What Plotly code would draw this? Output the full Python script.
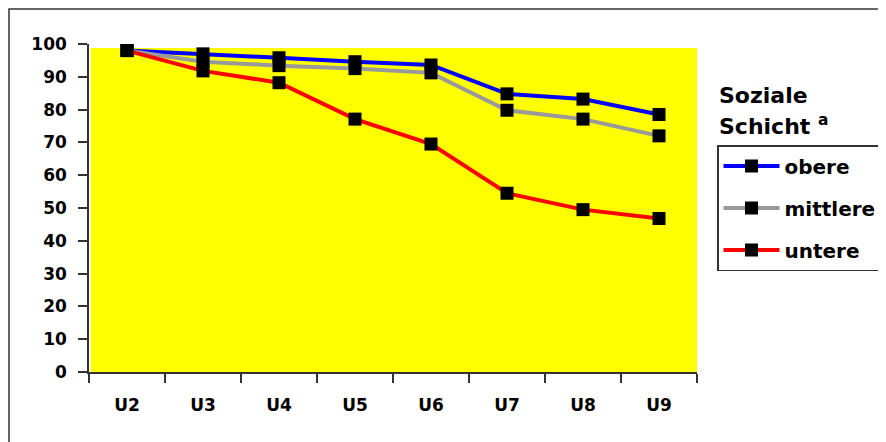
import plotly.graph_objects as go

categories = ["U2", "U3", "U4", "U5", "U6", "U7", "U8", "U9"]
obere = [98, 97, 95.8, 94.6, 93.6, 84.8, 83.2, 78.5]
mittlere = [98, 94.6, 93.4, 92.5, 91.2, 79.8, 77.1, 72.0]
untere = [98, 91.8, 88.2, 77.1, 69.5, 54.5, 49.5, 46.8]
series_names = ["obere", "mittlere", "untere"]
series_colors = ["#0000FF", "#999999", "#FF0000"]
y_ticks = [0, 10, 20, 30, 40, 50, 60, 70, 80, 90, 100]

FONT = "DejaVu Sans, Verdana, sans-serif"

# page body has an 8px default margin; compensate so plot area sits at x 89..697, y 44..372
fig = go.Figure()
for name, vals, col in zip(series_names, [obere, mittlere, untere], series_colors):
    fig.add_trace(go.Scatter(
        x=categories, y=vals, name=name, mode="lines+markers",
        line=dict(color=col, width=4),
        marker=dict(symbol="square", size=13, color="black"),
        legendgroup=name,
    ))

fig.update_layout(
    width=910, height=434,
    margin=dict(l=81, r=221, t=36, b=70),
    paper_bgcolor="white", plot_bgcolor="white",
    font=dict(family=FONT, color="black"),
    showlegend=True,
    legend=dict(
        x=(717 - 89) / 608, y=(372 - 145) / 328, xanchor="left", yanchor="top",
        bordercolor="#333333", borderwidth=1.5, bgcolor="white",
        font=dict(family=FONT, size=20, color="black", weight="bold"),
        tracegroupgap=13, traceorder="grouped",
        itemwidth=56,
    ),
    xaxis=dict(
        type="category", range=[-0.5, 7.5], automargin=False,
        showline=True, linecolor="#333333", linewidth=1.5,
        ticks="outside", ticklen=9, tickcolor="#333333", tickwidth=1.5,
        tickson="boundaries", showgrid=False, zeroline=False,
        tickfont=dict(family=FONT, size=17, color="black", weight="bold"),
        ticklabelstandoff=17,
    ),
    yaxis=dict(
        range=[0, 100], tickvals=y_ticks, automargin=False,
        showline=True, linecolor="#333333", linewidth=1.5,
        ticks="outside", ticklen=9, tickcolor="#333333", tickwidth=1.5,
        showgrid=False, zeroline=False,
        tickfont=dict(family=FONT, size=17, color="black", weight="bold"),
        ticklabelstandoff=8,
    ),
    shapes=[
        dict(type="rect", xref="x domain", yref="y", x0=0.003, x1=1, y0=0, y1=98.8,
             fillcolor="#FFFF00", line=dict(width=0), layer="below"),
        dict(type="rect", xref="paper", yref="paper", x0=(9 - 89) / 608, x1=2,
             y0=-1, y1=(372 - 9) / 328, line=dict(color="#333333", width=1.5),
             fillcolor="rgba(0,0,0,0)", layer="above"),
    ],
    annotations=[
        dict(xref="paper", yref="paper", x=(717 - 89) / 608, y=(372 - 95) / 328,
             xanchor="left", yanchor="middle", showarrow=False, text="Soziale",
             font=dict(family=FONT, size=22, color="black", weight="bold")),
        dict(xref="paper", yref="paper", x=(717 - 89) / 608, y=(372 - 125) / 328,
             xanchor="left", yanchor="middle", showarrow=False,
             text="Schicht <sup>a</sup>",
             font=dict(family=FONT, size=22, color="black", weight="bold")),
    ],
)

fig.write_html("out.html")
